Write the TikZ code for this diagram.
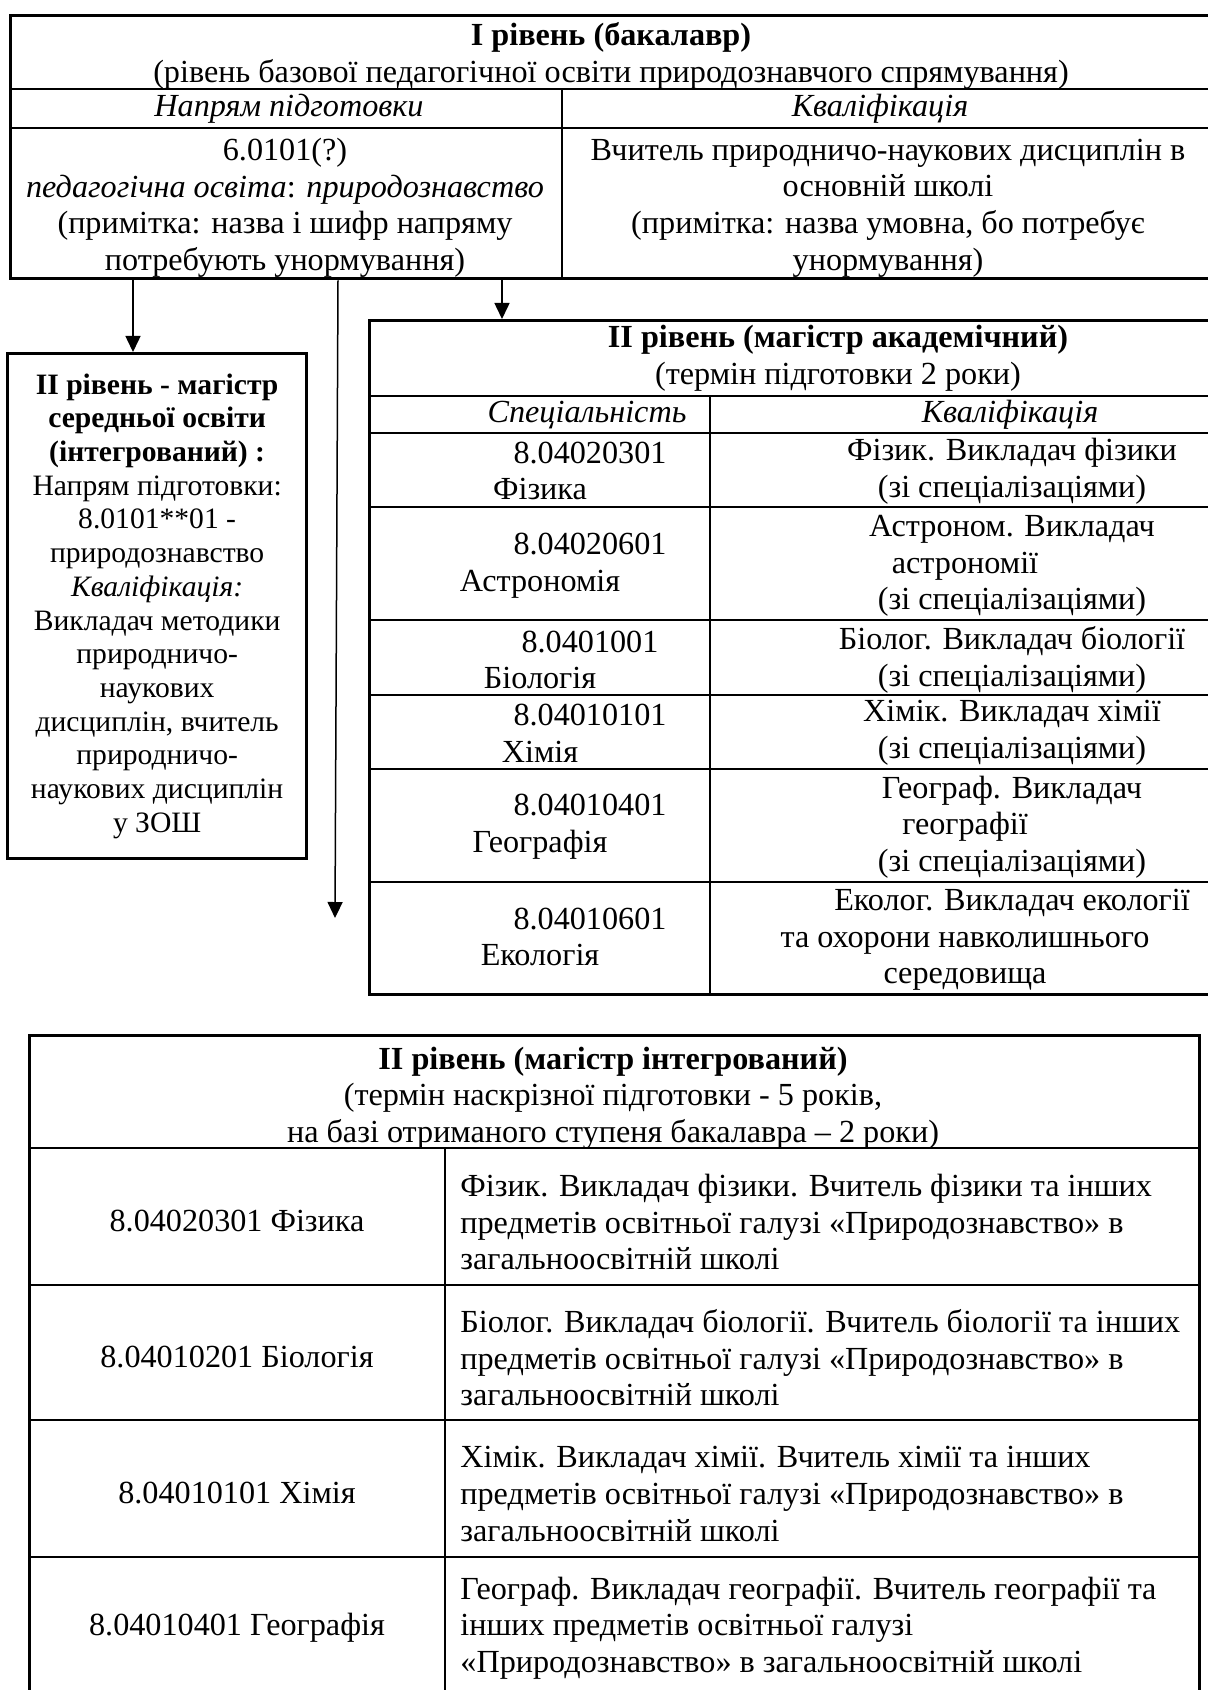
\documentclass[tikz,border=0pt]{standalone}
\usepackage{fontspec}
\setmainfont{Liberation Serif}
\usetikzlibrary{arrows.meta}

\newcommand\tabfont{\fontsize{16.1pt}{18.3pt}\selectfont}
\newcommand\boxfont{\fontsize{14.8pt}{16.85pt}\selectfont}
\newcommand\codeshift{\hspace*{50pt}}
\newcommand\padr[1]{#1\kern 47pt\relax}

\begin{document}
\begin{tikzpicture}[x=0.5pt,y=-0.5pt,
  frame/.style={draw, line width=1.65pt, inner sep=0pt, anchor=north west},
  rule/.style={line width=0.8pt},
  txt/.style={align=center, inner sep=0pt, font=\tabfont},
  head/.style={txt, font=\tabfont\itshape},
  arr/.style={line width=0.75pt, -{Triangle[width=7.5pt,length=8pt]}}]
\useasboundingbox (0,0) rectangle (1208,1690);
\fill[white] (0,0) rectangle (1208,1690);
\clip (0,0) rectangle (1208,1690);

% I level
\node[frame, minimum width=603pt, minimum height=131.5pt] (bach) at (9,14) {};
\draw[rule] (9,89) -- (1215,89);
\draw[rule] (9,128) -- (1215,128);
\draw[rule] (562,89) -- (562,277);
\node[txt] (bachtitle) at (611,56) {\textbf{І рівень (бакалавр)}\\(рівень базової педагогічної освіти природознавчого спрямування)};
\node[head] (bachdirh) at (289,109) {Напрям підготовки};
\node[head] (bachqualh) at (880,109) {Кваліфікація};
\node[txt] (bachdir) at (285,208) {6.0101(?)\\\textit{педагогічна освіта}: \textit{природознавство}\\(примітка: назва і шифр напряму\\потребують унормування)};
\node[txt] (bachqual) at (888,208) {Вчитель природничо-наукових дисциплін в\\основній школі\\(примітка: назва умовна, бо потребує\\унормування)};

% II level, secondary education master
\node[frame, minimum width=149.5pt, minimum height=252.5pt, align=center, font=\boxfont] (magsec) at (6,352)
  {\textbf{ІІ рівень - магістр}\\\textbf{середньої освіти}\\\textbf{(інтегрований) :}\\Напрям підготовки:\\8.0101**01 -\\природознавство\\\textit{Кваліфікація:}\\Викладач методики\\природничо-\\наукових\\дисциплін, вчитель\\природничо-\\наукових дисциплін\\у ЗОШ};

% II level, academic master
\node[frame, minimum width=470pt, minimum height=337pt] (acad) at (368,319) {};
\foreach \y in {396,433,507,620,695,769,882}
  \draw[rule] (368,\y) -- (1308,\y);
\draw[rule] (710,396) -- (710,993);
\node[txt] (acadtitle) at (838,358) {\textbf{ІІ рівень (магістр академічний)}\\(термін підготовки 2 роки)};
\node[head] (acadspech) at (587,415) {Спеціальність};
\node[head] (acadqualh) at (1010,415) {Кваліфікація};
\node[txt] (phys) at (540,471) {\codeshift 8.04020301\\Фізика};
\node[txt] (physq) at (1012,471) {Фізик. Викладач фізики\\(зі спеціалізаціями)};
\node[txt] (astr) at (540,566) {\codeshift 8.04020601\\Астрономія};
\node[txt] (astrq) at (1012,566) {Астроном. Викладач\\\padr{астрономії}\\(зі спеціалізаціями)};
\node[txt] (biol) at (540,660) {\codeshift 8.0401001\\Біологія};
\node[txt] (biolq) at (1012,660) {Біолог. Викладач біології\\(зі спеціалізаціями)};
\node[txt] (chem) at (540,733) {\codeshift 8.04010101\\Хімія};
\node[txt] (chemq) at (1012,733) {Хімік. Викладач хімії\\(зі спеціалізаціями)};
\node[txt] (geog) at (540,827) {\codeshift 8.04010401\\Географія};
\node[txt] (geogq) at (1012,827) {Географ. Викладач\\\padr{географії}\\(зі спеціалізаціями)};
\node[txt] (ecol) at (540,937) {\codeshift 8.04010601\\Екологія};
\node[txt] (ecolq) at (1012,940) {Еколог. Викладач екології\\\padr{та охорони навколишнього}\\\padr{середовища}};

% II level, integrated master
\node[frame, minimum width=585pt, minimum height=330pt] (integ) at (28,1034) {};
\foreach \y in {1148,1285,1420,1557}
  \draw[rule] (28,\y) -- (1198,\y);
\draw[rule] (445,1148) -- (445,1694);
\node[txt] (integtitle) at (613,1098) {\textbf{ІІ рівень (магістр інтегрований)}\\(термін наскрізної підготовки - 5 років,\\на базі отриманого ступеня бакалавра – 2 роки)};
\node[txt] (iphys) at (237,1221) {8.04020301 Фізика};
\node[txt, align=left, anchor=west] (iphysq) at (460,1222) {Фізик. Викладач фізики. Вчитель фізики та інших\\предметів освітньої галузі «Природознавство» в\\загальноосвітній школі};
\node[txt] (ibiol) at (237,1357) {8.04010201 Біологія};
\node[txt, align=left, anchor=west] (ibiolq) at (460,1358) {Біолог. Викладач біології. Вчитель біології та інших\\предметів освітньої галузі «Природознавство» в\\загальноосвітній школі};
\node[txt] (ichem) at (237,1493) {8.04010101 Хімія};
\node[txt, align=left, anchor=west] (ichemq) at (460,1494) {Хімік. Викладач хімії. Вчитель хімії та інших\\предметів освітньої галузі «Природознавство» в\\загальноосвітній школі};
\node[txt] (igeog) at (237,1628) {8.04010401 Географія};
\node[txt, align=left, anchor=west] (igeogq) at (460,1628) {Географ. Викладач географії. Вчитель географії та\\інших предметів освітньої галузі\\«Природознавство» в загальноосвітній школі};

% arrows
\path (bach.south west) ++(124,0) coordinate (s1);
\path (bach.south west) ++(329,0) coordinate (s2);
\path (bach.south west) ++(493,0) coordinate (s3);
\coordinate (e2) at (335,918);
\draw[arr] (s1) -- (s1 |- magsec.north);
\draw[arr] (s2) -- (e2);
\draw[arr] (s3) -- (s3 |- acad.north);
\end{tikzpicture}
\end{document}
